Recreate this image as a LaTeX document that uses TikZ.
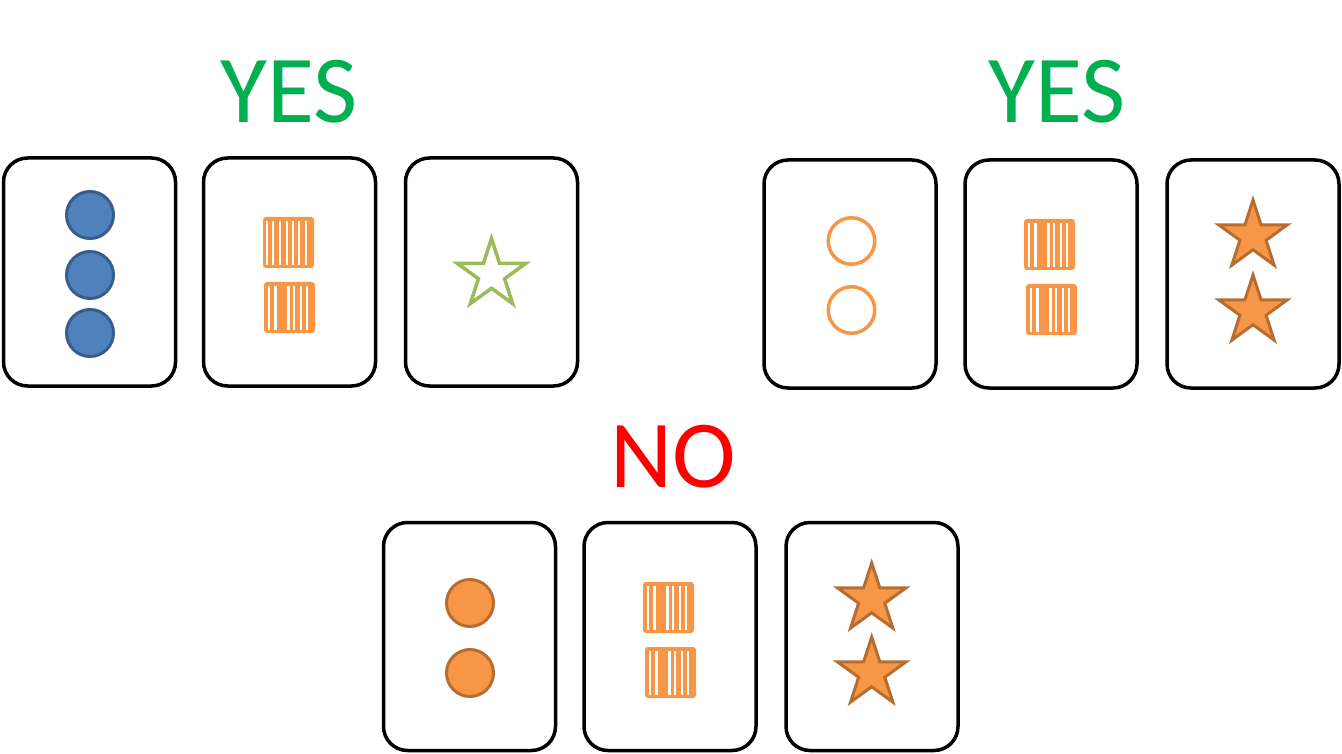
\documentclass[tikz,border=0pt]{standalone}
\usepackage{fontspec}
\setmainfont{Carlito}
\usepackage{tikz}
\usetikzlibrary{shapes.geometric}

\definecolor{yesgreen}{HTML}{00B050}
\definecolor{nored}{HTML}{FF0000}
\definecolor{dotblue}{HTML}{4F81BD}
\definecolor{dotblueline}{HTML}{385D8A}
\definecolor{shapeorange}{HTML}{F79646}
\definecolor{orangeline}{HTML}{B66D31}
\definecolor{stargreen}{HTML}{9BBB59}

% orange square with white bars, #1,#2 = top left corner, #3 = bar offset/width
\newcommand{\stripebox}[3]{%
  \fill[shapeorange, rounded corners=3pt] (#1,#2) rectangle ++(51,51);
  \foreach \s/\w in {#3}
    \fill[white] (#1+\s-\w/2, #2+4) rectangle ++(\w,44);
}

\begin{document}
\begin{tikzpicture}[x=1pt, y=-1pt,
    card/.style={draw, line width=3.5pt, rounded corners=24pt, minimum width=172pt, minimum height=228pt, inner sep=0pt},
    answer/.style={anchor=base, inner sep=0pt, font=\fontsize{96}{96}\selectfont},
    bluedot/.style={circle, draw=dotblueline, fill=dotblue, line width=3pt, minimum size=47pt, inner sep=0pt},
    orangedot/.style={circle, draw=orangeline, fill=shapeorange, line width=3pt, minimum size=47pt, inner sep=0pt},
    orangering/.style={circle, draw=shapeorange, line width=3.5pt, minimum size=46.5pt, inner sep=0pt},
    orangestar/.style={star, star points=5, star point ratio=2.618, draw=orangeline, fill=shapeorange, line width=3pt, minimum size=72pt, inner sep=0pt},
    greenstar/.style={star, star points=5, star point ratio=2.618, draw=stargreen, line width=3.5pt, minimum size=72pt, inner sep=0pt}]
      \useasboundingbox (0,0) rectangle (1342,754);

      \node[answer, yesgreen] (yesleft) at (289,123) {YES};
      \node[answer, yesgreen] (yesright) at (1057,123) {YES};
      \node[answer, nored] (no) at (673,487) {NO};

      % first yes
      \node[card] (lcard1) at (89.5,272) {};
      \node[card] (lcard2) at (289.5,272) {};
      \node[card] (lcard3) at (491.5,272) {};
      \node[bluedot] (ldot1) at (90,215) {};
      \node[bluedot] (ldot2) at (90,275) {};
      \node[bluedot] (ldot3) at (90,333) {};
      \stripebox{263}{217}{4.3/2, 10.3/2.2, 17.3/2.2, 23.7/2.2, 30.3/2.2, 36.3/2, 42.7/2}
      \stripebox{264}{282}{5/2, 11.7/2.8, 24.3/2.6, 30.3/2, 37/2, 43.3/2}
      \node[greenstar] (lstar) at (491.5,274.5) {};

      % second yes
      \node[card] (rcard1) at (850,274) {};
      \node[card] (rcard2) at (1051,274) {};
      \node[card] (rcard3) at (1253,274) {};
      \node[orangering] (rring1) at (851.5,241) {};
      \node[orangering] (rring2) at (851.5,310) {};
      \stripebox{1024}{219}{5/2, 11.7/2.8, 24.3/2.6, 30.3/2, 37/2, 43.3/2}
      \stripebox{1026}{284}{5/2, 11.7/2.8, 24.3/2.6, 30.3/2, 37/2, 43.3/2}
      \node[orangestar] (rstar1) at (1253,236) {};
      \node[orangestar] (rstar2) at (1253,311) {};

      % no
      \node[card] (bcard1) at (469.5,636.5) {};
      \node[card] (bcard2) at (670,636.5) {};
      \node[card] (bcard3) at (872,636.5) {};
      \node[orangedot] (bdot1) at (470,603) {};
      \node[orangedot] (bdot2) at (470,673) {};
      \stripebox{643}{582}{5/2, 11.7/2.8, 24.3/2.6, 30.3/2, 37/2, 43.3/2}
      \stripebox{645}{647}{5/2, 11.7/2.8, 24.3/2.6, 30.3/2, 37/2, 43.3/2}
      \node[orangestar] (bstar1) at (871.7,599) {};
      \node[orangestar] (bstar2) at (871.7,673) {};
    \end{tikzpicture}
\end{document}
